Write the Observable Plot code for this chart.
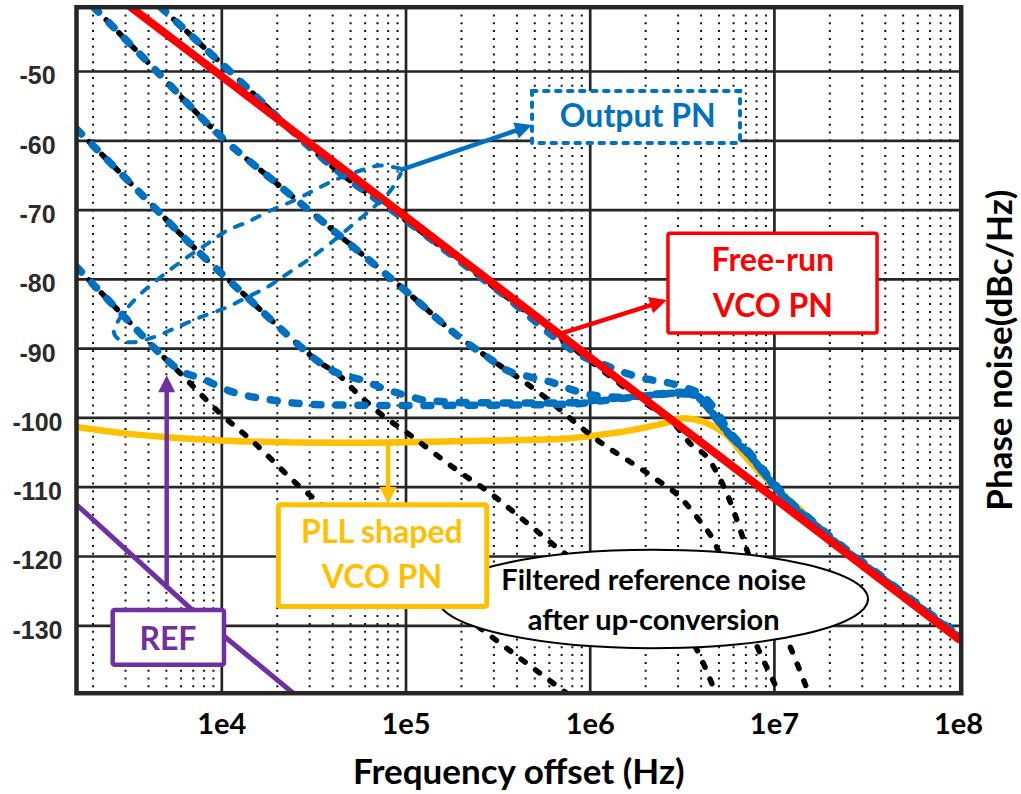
<!DOCTYPE html>
<html><head><meta charset="utf-8">
<script src="https://cdn.jsdelivr.net/npm/d3@7"></script>
<script src="https://cdn.jsdelivr.net/npm/@observablehq/plot@0.6"></script>
<style>html,body{margin:0;padding:0;background:#fff;}</style>
</head><body><div id="chart"></div>
<script>
// ---------- axis ticks ----------
const xTicks = [1e4, 1e5, 1e6, 1e7, 1e8];
const xTickLabels = ["1e4", "1e5", "1e6", "1e7", "1e8"];
const yTicks = [-50, -60, -70, -80, -90, -100, -110, -120, -130];
const yTickLabels = ["-50", "-60", "-70", "-80", "-90", "-100", "-110", "-120", "-130"];
const minorX = [];
for (const dec of [1e3, 1e4, 1e5, 1e6, 1e7]) for (const m of [2,3,4,5,6,7,8,9]) minorX.push(m * dec);

// ---------- series ----------
const freeRunF  = [3200, 1e4, 1e5, 1e6, 1e7, 1e8];
const freeRunPN = [-40.7, -50.7, -71.0, -91.3, -111.6, -131.9];

const pllF  = [1626, 3162, 5060, 9840, 44060, 101400, 312600, 716100, 1.091e6, 1.656e6, 2.5e6, 3.162e6, 3.639e6, 4.498e6, 5.559e6, 6.792e6, 8.414e6, 1.178e7, 1.57e7, 2.0e7, 3.98e7, 1e8];
const pllPN = [-101.3, -102.3, -102.8, -103.25, -103.6, -103.5, -103.25, -103.0, -102.5, -101.8, -100.8, -100.05, -100.2, -101.0, -102.6, -105.3, -108.0, -111.6, -114.6, -117.3, -123.6, -131.7];

// filtered reference noise after up-conversion (black dotted)
const refCF  = [4645, 1e4, 42320, 1e5, 316200, 1e6, 2.0e6, 2.82e6, 3.55e6, 4.32e6, 5.01e6, 5.62e6, 6.31e6, 7.08e6, 8.91e6, 1.175e7, 1.514e7, 1.66e7];
const refCPN = [-40.7, -48.9, -64.3, -71.5, -81.6, -91.8, -97.9, -100.7, -103.9, -105.7, -108.5, -111.4, -115.0, -119.0, -126.0, -132.1, -139.3, -142.0];
const refAF  = [2014, 3981, 10180, 19950, 42320, 101500, 205100, 276100, 537000, 1.042e6, 2.208e6, 3.09e6, 3.972e6, 4.677e6, 5.62e6, 6.76e6, 8.09e6, 1.04e7, 1.12e7];
const refAPN = [-40.7, -48.7, -59.7, -66.2, -73.4, -81.85, -88.8, -91.2, -96.5, -102.8, -108.6, -111.5, -115.0, -117.7, -122.9, -128.1, -133.1, -139.3, -141.3];
const refDF  = [1626, 3162, 7656, 13740, 24490, 34360, 42320, 54580, 72780, 101900, 190500, 287700, 418800, 690200, 1.138e6, 1.875e6, 2.729e6, 3.508e6, 3.819e6, 4.667e6, 5.012e6];
const refDPN = [-58.3, -66.0, -76.3, -82.6, -88.8, -92.1, -93.6, -96.5, -99.4, -102.2, -107.6, -110.9, -114.4, -119.1, -123.2, -126.8, -129.5, -131.8, -133.6, -138.9, -141.0];
const refBF  = [1626, 3162, 4457, 5970, 9840, 14860, 26730, 34360, 1e5, 263600, 749900, 794300];
const refBPN = [-78.2, -86.2, -90.3, -93.6, -99.4, -103.5, -110.0, -112.4, -122.0, -130.7, -139.8, -140.3];

// output phase noise (blue dashed)
const outCF  = [4645, 1e4, 42320, 1e5, 316200, 1e6, 1.18e6, 1.59e6, 2.04e6, 2.62e6, 3.16e6, 4.12e6, 4.89e6, 5.56e6, 6.31e6, 7.11e6, 8.41e6, 9.89e6, 1.26e7, 1.58e7, 2.09e7, 3.16e7, 5.62e7, 1e8];
const outCPN = [-40.7, -48.9, -64.3, -71.5, -81.6, -91.6, -92.3, -93.6, -94.4, -94.9, -95.5, -96.9, -99.2, -101.6, -103.3, -104.6, -107.0, -109.3, -112.5, -114.7, -117.5, -121.2, -126.3, -131.4];
const outAF  = [2014, 3981, 10180, 19950, 42320, 101500, 205100, 276100, 354000, 474300, 608100, 811000, 1.091e6, 1.403e6, 1.875e6, 2.404e6, 3.09e6, 3.811e6, 4.498e6, 5.56e6, 6.31e6, 7.11e6, 8.41e6, 9.89e6, 1.26e7, 1.58e7, 2.09e7, 3.16e7, 5.62e7, 1e8];
const outAPN = [-40.7, -48.7, -59.7, -66.2, -73.4, -81.85, -88.8, -91.2, -93.15, -94.1, -94.8, -96.0, -96.8, -97.0, -96.8, -96.5, -96.3, -96.8, -98.9, -102.0, -103.6, -104.9, -107.3, -109.6, -112.7, -114.9, -117.7, -121.4, -126.5, -131.6];
const outDF  = [1626, 3162, 7656, 13740, 24490, 34360, 42320, 58750, 75510, 101900, 130900, 232800, 434500, 811000, 1.091e6, 1.459e6, 1.875e6, 2.404e6, 3.09e6, 3.811e6, 4.498e6, 5.56e6, 6.31e6, 7.11e6, 8.41e6, 9.89e6, 1.26e7, 1.58e7, 2.09e7, 3.16e7, 5.62e7, 1e8];
const outDPN = [-58.3, -66.0, -76.3, -82.6, -88.8, -92.1, -93.5, -94.6, -95.75, -96.8, -97.5, -97.8, -97.85, -97.8, -97.4, -97.1, -96.8, -96.6, -96.5, -97.0, -99.1, -102.1, -103.7, -105.0, -107.4, -109.7, -112.8, -115.0, -117.8, -121.5, -126.5, -131.6];
const outBF  = [1626, 3162, 4457, 5970, 7980, 10260, 13740, 17620, 23600, 34360, 1e5, 316200, 811000, 1.091e6, 1.459e6, 1.875e6, 2.404e6, 3.09e6, 3.811e6, 4.498e6, 5.56e6, 6.31e6, 7.11e6, 8.41e6, 9.89e6, 1.26e7, 1.58e7, 2.09e7, 3.16e7, 5.62e7, 1e8];
const outBPN = [-78.2, -86.2, -90.3, -93.2, -94.4, -95.8, -96.8, -97.3, -97.8, -98.1, -98.2, -98.15, -98.0, -97.6, -97.2, -96.9, -96.6, -96.4, -96.9, -99.0, -102.05, -103.65, -104.95, -107.35, -109.65, -112.75, -114.95, -117.75, -121.45, -126.5, -131.6];

// reference phase noise (purple)
const refPnF  = [1640, 6761, 24600, 26300];
const refPnPN = [-112.6, -127.5, -139.8, -140.5];

// ---------- annotations (data coordinates) ----------
const lassoF  = [93580, 72710, 56620, 40550, 31590, 24600, 18370, 13740, 10690, 8337, 6486, 4645, 3475, 2818, 2593, 2818, 3327, 4276, 5728, 7656, 10690, 13740, 17620, 22650, 29090, 40550, 52080, 66830, 82410, 93580];
const lassoPN = [-64.04, -63.57, -64.29, -65.73, -67.17, -68.62, -70.06, -71.75, -72.95, -74.87, -76.8, -79.69, -82.57, -85.46, -87.63, -88.82, -89.07, -88.35, -86.9, -85.46, -84.02, -82.57, -81.13, -79.2, -77.28, -74.39, -71.98, -69.58, -67.17, -64.76];

const dashedBoxes = [
  {f1: 4.863e5, f2: 6.546e6, v1: -52.9, v2: -60.4, color: "#0070C0"}
];
const solidBoxes = [
  {f1: 2.66e6, f2: 3.63e7, v1: -73.4, v2: -87.8, color: "#FF0000", w: 3.5},
  {f1: 2.04e4, f2: 2.76e5, v1: -112.6, v2: -127.3, color: "#FFC000", w: 5},
  {f1: 2573, f2: 10340, v1: -127.8, v2: -135.7, color: "#7030A0", w: 4.5}
];
const boxNotes = [
  {text: "Output PN", f: 1.81e6, v: -56.6, color: "#0070C0"},
  {text: "Free-run", f: 9.8e6, v: -77.35, color: "#FF0000"},
  {text: "VCO PN", f: 9.8e6, v: -84.0, color: "#FF0000"},
  {text: "PLL shaped", f: 7.4e4, v: -116.6, color: "#FFC000"},
  {text: "VCO PN", f: 7.4e4, v: -123.1, color: "#FFC000"},
  {text: "REF", f: 5.1e3, v: -132.0, color: "#7030A0"}
];
const ellipseNotes = [
  {text: "Filtered reference noise", f: 2.21e6, v: -123.45},
  {text: "after up-conversion", f: 2.21e6, v: -129.3}
];
const ellipseBox = {f1: 1.501e5, f2: 3.243e7, v1: -119.1, v2: -133.3};
const arrows = [
  {f1: 93580, v1: -64.3, f2: 4.863e5, v2: -57.8, color: "#0070C0"},
  {f1: 6.62e5, v1: -88.1, f2: 2.62e6, v2: -83.05, color: "#FF0000"},
  {f1: 8.04e4, v1: -103.5, f2: 8.04e4, v2: -112.5, color: "#FFC000"},
  {f1: 5052, v1: -124.8, f2: 5052, v2: -93.9, color: "#7030A0"}
];

// ---------- helpers ----------
const pts = (F, V) => F.map((f, i) => ({f, v: V[i]}));
const BLUE = "#0070C0", BLACK = "#000", GRID = "#262626";
const blackStyle = {x: "f", y: "v", stroke: BLACK, strokeWidth: 5.5, strokeDasharray: "5,13", strokeLinecap: "round", curve: "monotone-x", clip: true};
const blueStyle  = {x: "f", y: "v", stroke: BLUE, strokeWidth: 7.5, strokeDasharray: "7,15", strokeLinecap: "round", curve: "monotone-x", clip: true};

function ellipseMark(e) {
  return (index, scales) => {
    const x1 = scales.x(e.f1), x2 = scales.x(e.f2), y1 = scales.y(e.v1), y2 = scales.y(e.v2);
    const g = d3.create("svg:g");
    g.append("ellipse").attr("cx", (x1 + x2) / 2).attr("cy", (y1 + y2) / 2)
      .attr("rx", Math.abs(x2 - x1) / 2).attr("ry", Math.abs(y2 - y1) / 2)
      .attr("fill", "#fff").attr("stroke", "#000").attr("stroke-width", 2);
    return g.node();
  };
}
function arrowMark(list) {
  return (index, scales) => {
    const g = d3.create("svg:g");
    for (const a of list) {
      const x1 = scales.x(a.f1), y1 = scales.y(a.v1), x2 = scales.x(a.f2), y2 = scales.y(a.v2);
      const ang = Math.atan2(y2 - y1, x2 - x1), L = 17, W = 17;
      const bx = x2 - L * Math.cos(ang), by = y2 - L * Math.sin(ang);
      g.append("line").attr("x1", x1).attr("y1", y1).attr("x2", bx + 2 * Math.cos(ang)).attr("y2", by + 2 * Math.sin(ang))
        .attr("stroke", a.color).attr("stroke-width", 4.5);
      const px = -Math.sin(ang) * W / 2, py = Math.cos(ang) * W / 2;
      g.append("path").attr("d", `M${x2},${y2}L${bx + px},${by + py}L${bx - px},${by - py}Z`).attr("fill", a.color);
    }
    return g.node();
  };
}

const marks = [
  Plot.ruleX(minorX, {stroke: "#111", strokeWidth: 2, strokeDasharray: "2,5.8"}),
  Plot.ruleX([1e4, 1e5, 1e6, 1e7], {stroke: GRID, strokeWidth: 2.7}),
  Plot.ruleY(yTicks, {stroke: GRID, strokeWidth: 2.7}),
  Plot.line(pts(pllF, pllPN), {x: "f", y: "v", stroke: "#FFC000", strokeWidth: 6.5, curve: "monotone-x", clip: true}),
  Plot.line(pts(refCF, refCPN), blackStyle),
  Plot.line(pts(refAF, refAPN), blackStyle),
  Plot.line(pts(refDF, refDPN), blackStyle),
  Plot.line(pts(refBF, refBPN), blackStyle),
  Plot.line(pts(outBF, outBPN), blueStyle),
  Plot.line(pts(outDF, outDPN), blueStyle),
  Plot.line(pts(outAF, outAPN), blueStyle),
  Plot.line(pts(outCF, outCPN), blueStyle),
  Plot.line(pts(refPnF, refPnPN), {x: "f", y: "v", stroke: "#7030A0", strokeWidth: 5, clip: true}),
  Plot.line(pts(freeRunF, freeRunPN), {x: "f", y: "v", stroke: "#FF0000", strokeWidth: 8, strokeLinecap: "round", clip: true}),
  Plot.frame({stroke: GRID, strokeWidth: 4.5}),
  ellipseMark(ellipseBox),
  Plot.rect(solidBoxes, {x1: "f1", x2: "f2", y1: "v1", y2: "v2", fill: "#fff", stroke: "color", strokeWidth: "w", rx: 2}),
  Plot.rect(dashedBoxes, {x1: "f1", x2: "f2", y1: "v1", y2: "v2", fill: "#fff", stroke: "color", strokeWidth: 4, strokeDasharray: "4.5,7.5", strokeLinecap: "round"}),
  Plot.line(pts(lassoF, lassoPN), {x: "f", y: "v", stroke: BLUE, strokeWidth: 4, strokeDasharray: "8,11", strokeLinecap: "round", curve: "catmull-rom"}),
  arrowMark(arrows),
  Plot.text(boxNotes, {x: "f", y: "v", text: "text", fill: "color", fontSize: 32, fontWeight: "bold", fontFamily: "Lato"}),
  Plot.text(ellipseNotes, {x: "f", y: "v", text: "text", fill: "#000", fontSize: 29, fontWeight: "bold", fontFamily: "Lato"}),
  Plot.text(xTicks, {x: d => d, text: (d, i) => xTickLabels[i], frameAnchor: "bottom", lineAnchor: "middle", dy: 32, fontSize: 29, fontWeight: "bold", fontFamily: "Lato", fill: "#000"}),
  Plot.text(yTicks, {y: d => d, text: (d, i) => yTickLabels[i], frameAnchor: "left", dx: -39, dy: 5, textAnchor: "middle", lineAnchor: "middle", fontSize: 25, fontWeight: "bold", fontFamily: "Liberation Sans", fill: "#2b2b2b"}),
  Plot.text(["Frequency offset (Hz)"], {text: d => d, frameAnchor: "bottom", textAnchor: "middle", lineAnchor: "middle", dy: 80, fontSize: 35, fontWeight: "bold", fontFamily: "Lato", fill: "#000"}),
  Plot.text(["Phase noise(dBc/Hz)"], {text: d => d, frameAnchor: "right", textAnchor: "middle", lineAnchor: "middle", dx: 40, rotate: -90, fontSize: 35, fontWeight: "bold", fontFamily: "Lato", fill: "#000"})
];

const chart = Plot.plot({
  width: 1021,
  height: 794,
  marginLeft: 76,
  marginRight: 60.3,
  marginTop: 6.7,
  marginBottom: 101.3,
  style: {background: "#fff", fontFamily: "Lato"},
  x: {type: "log", domain: [1626, 1.033e8], axis: null},
  y: {domain: [-139.73, -40.72], axis: null},
  marks
});
document.getElementById("chart").appendChild(chart);
</script>
</body></html>
